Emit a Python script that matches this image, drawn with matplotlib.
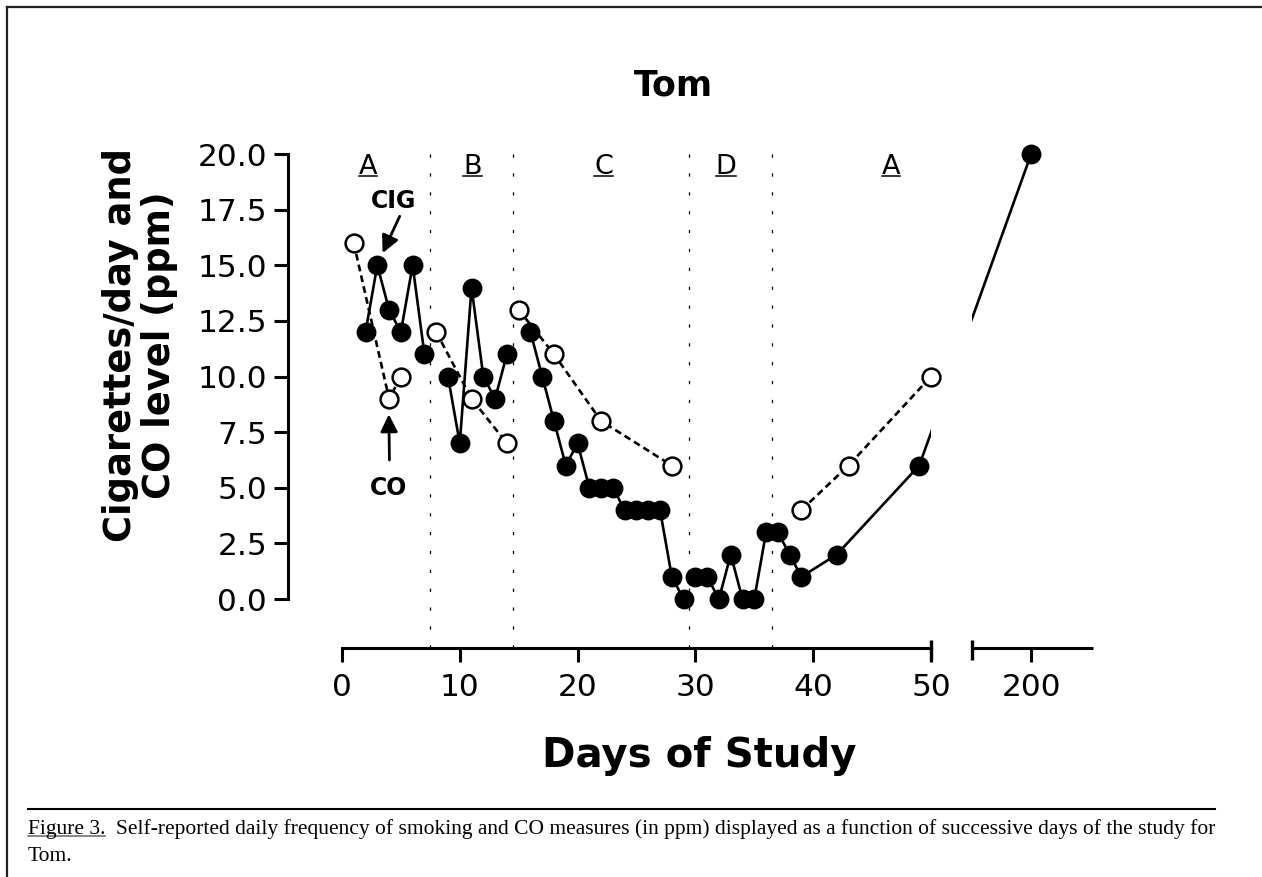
import numpy as np
import matplotlib
matplotlib.use('Agg')
import matplotlib.pyplot as plt
from matplotlib.lines import Line2D
from matplotlib.transforms import IdentityTransform
from matplotlib.ticker import FixedLocator, FixedFormatter, FormatStrFormatter

# ---------------- data ----------------
# Cigarettes per day (filled circles), one list per connected phase segment
cig_a1_days = [2, 3, 4, 5, 6, 7]
cig_a1_vals = [12, 15, 13, 12, 15, 11]
cig_b_days = [9, 10, 11, 12, 13, 14]
cig_b_vals = [10, 7, 14, 10, 9, 11]
cig_c_days = [16, 17, 18, 19, 20, 21, 22, 23, 24, 25, 26, 27, 28, 29]
cig_c_vals = [12, 10, 8, 6, 7, 5, 5, 5, 4, 4, 4, 4, 1, 0]
cig_d_days = [30, 31, 32, 33, 34, 35, 36]
cig_d_vals = [1, 1, 0, 2, 0, 0, 3]
cig_a2_days = [37, 38, 39, 42, 49, 200]
cig_a2_vals = [3, 2, 1, 2, 6, 20]

# CO level in ppm (open circles)
co_a1_days = [1, 4, 5]
co_a1_vals = [16, 9, 10]
co_b_days = [8, 11, 14]
co_b_vals = [12, 9, 7]
co_c_days = [15, 18, 22, 28]
co_c_vals = [13, 11, 8, 6]
co_a2_days = [39, 43, 50]
co_a2_vals = [4, 6, 10]

phase_bounds = [7.5, 14.5, 29.5, 36.5]
phase_labels = ['A', 'B', 'C', 'D', 'A']
phase_label_x = [2.2, 11.1, 22.2, 32.6, 46.6]

x_ticks = [0, 10, 20, 30, 40, 50, 200]
y_ticks = [0, 2.5, 5, 7.5, 10, 12.5, 15, 17.5, 20]

caption_head = 'Figure 3.'
caption_body = ('Self-reported daily frequency of smoking and CO measures (in ppm) displayed '
                'as a function of successive days of the study for')
caption_tail = 'Tom.'

# ---------------- broken x scale ----------------
BREAK_LO, BREAK_HI, GAP = 50.0, 195.0, 3.5
BIG = 1e4
_d_pts = [-BIG, BREAK_LO, BREAK_HI, BIG]
_u_pts = [-BIG, BREAK_LO, BREAK_LO + GAP, BREAK_LO + GAP + (BIG - BREAK_HI)]


def fwd(d):
    return np.interp(np.asarray(d, dtype=float), _d_pts, _u_pts)


def inv(u):
    return np.interp(np.asarray(u, dtype=float), _u_pts, _d_pts)


W, H = 1262, 877


def fx(px):
    return px / W


def fy(py):
    return 1 - py / H


fig = plt.figure(figsize=(W / 100, H / 100), dpi=100)
ax = fig.add_axes([fx(288), fy(648), fx(1093) - fx(288), fy(154) - fy(648)])
ax.set_xscale('function', functions=(fwd, inv))
ax.set_xlim(-4.58, 205.25)
YMIN = -2.2
ax.set_ylim(YMIN, 20)

AX_LW = 2.2
for s in ['top', 'right']:
    ax.spines[s].set_visible(False)
ax.spines['left'].set_bounds(0, 20)
ax.spines['bottom'].set_bounds(0, 50)
for s in ['left', 'bottom']:
    ax.spines[s].set_linewidth(AX_LW)

ax.xaxis.set_major_locator(FixedLocator(x_ticks))
ax.xaxis.set_major_formatter(FixedFormatter([str(t) for t in x_ticks]))
ax.xaxis.set_minor_locator(FixedLocator([]))
ax.yaxis.set_major_locator(FixedLocator(y_ticks))
ax.yaxis.set_major_formatter(FormatStrFormatter('%.1f'))
ax.tick_params(axis='both', direction='out', length=10, width=AX_LW, labelsize=22.5)
ax.tick_params(axis='y', pad=5)
ax.tick_params(axis='x', pad=8)

# second axis segment and break marks
ax.plot([BREAK_HI, 205.25], [YMIN, YMIN], color='k', lw=AX_LW, clip_on=False,
        solid_capstyle='butt', zorder=5)
for bx in [BREAK_LO, BREAK_HI]:
    ax.plot([bx, bx], [YMIN + 0.36, YMIN - 0.54], color='k', lw=2.4, clip_on=False,
            solid_capstyle='butt', zorder=5)

# phase change lines
for b in phase_bounds:
    ax.plot([b, b], [YMIN, 20], color='k', lw=0.9, linestyle=(0, (2.6, 12.5)), zorder=1)

LW = 1.9
MS = 12.8
cig_segments = [(cig_a1_days, cig_a1_vals), (cig_b_days, cig_b_vals), (cig_c_days, cig_c_vals),
                (cig_d_days, cig_d_vals), (cig_a2_days, cig_a2_vals)]
co_segments = [(co_a1_days, co_a1_vals), (co_b_days, co_b_vals), (co_c_days, co_c_vals),
               (co_a2_days, co_a2_vals)]

for d, v in cig_segments:
    ax.plot(d, v, color='k', lw=LW, zorder=2, clip_on=False)
for d, v in co_segments:
    ax.plot(d, v, color='k', lw=LW, dashes=(2.6, 1.6), zorder=2)

# gap in the broken axis (hides the connecting line)
ax.axvspan(BREAK_LO, BREAK_HI, color='white', lw=0, zorder=2.5)

for d, v in cig_segments:
    ax.plot(d, v, linestyle='none', marker='o', ms=MS, mfc='k', mec='k', mew=1.5,
            zorder=3, clip_on=False)
for d, v in co_segments:
    ax.plot(d, v, linestyle='none', marker='o', ms=MS, mfc='white', mec='k', mew=1.8,
            zorder=4, clip_on=False)

# annotations
ax.text(4.4, 17.9, 'CIG', ha='center', va='center', fontsize=17, weight='bold')
ax.annotate('', xy=(3.45, 15.55), xytext=(4.9, 17.2),
            arrowprops=dict(arrowstyle='-|>', color='k', lw=2.0, mutation_scale=26,
                            shrinkA=0, shrinkB=0))
ax.text(3.94, 5.0, 'CO', ha='center', va='center', fontsize=17, weight='bold')
ax.annotate('', xy=(3.98, 8.3), xytext=(4.03, 6.25),
            arrowprops=dict(arrowstyle='-|>', color='k', lw=2.0, mutation_scale=26,
                            shrinkA=0, shrinkB=0))

PHASE_Y = 19.1
phase_texts = []
for lx, lab in zip(phase_label_x, phase_labels):
    t = ax.text(lx, PHASE_Y, lab, ha='center', va='baseline', fontsize=19.5)
    phase_texts.append(t)

# titles / labels
fig.text(fx(673), fy(95), 'Tom', ha='center', va='baseline', fontsize=25, weight='bold')
fig.text(fx(699), fy(767), 'Days of Study', ha='center', va='baseline', fontsize=29,
         weight='bold')
fig.text(fx(140), fy(345), 'Cigarettes/day and\nCO level (ppm)', rotation=90,
         ha='center', va='center', fontsize=26.5, weight='bold', linespacing=1.08,
         multialignment='center')

# frame
fig.add_artist(Line2D([fx(7), 1], [fy(7), fy(7)], transform=fig.transFigure,
                      color='#222222', lw=1.6))
fig.add_artist(Line2D([fx(7), fx(7)], [0, fy(7)], transform=fig.transFigure,
                      color='#222222', lw=1.6))
# caption rule
fig.add_artist(Line2D([fx(28), fx(1215)], [fy(809), fy(809)], transform=fig.transFigure,
                      color='k', lw=1.5))

CAP_FS = 15.5
serif = 'Liberation Serif'
th = fig.text(fx(28), fy(834), caption_head, ha='left', va='baseline', fontsize=CAP_FS,
              family=serif)
fig.text(fx(116), fy(834), caption_body, ha='left', va='baseline', fontsize=CAP_FS,
         family=serif)
fig.text(fx(28), fy(861), caption_tail, ha='left', va='baseline', fontsize=CAP_FS,
         family=serif)

# underlines
fig.canvas.draw()
r = fig.canvas.get_renderer()
for t in phase_texts:
    bb = t.get_window_extent(r)
    ybase = ax.transData.transform((0, PHASE_Y))[1]
    fig.add_artist(Line2D([bb.x0, bb.x1], [ybase - 2, ybase - 2], transform=IdentityTransform(),
                          color='k', lw=1.1))
bb = th.get_window_extent(r)
yb = fy(836) * H
fig.add_artist(Line2D([bb.x0, bb.x1], [yb, yb], transform=IdentityTransform(),
                      color='#666666', lw=1.1))

fig.savefig('out.png', dpi=100, facecolor='white')
